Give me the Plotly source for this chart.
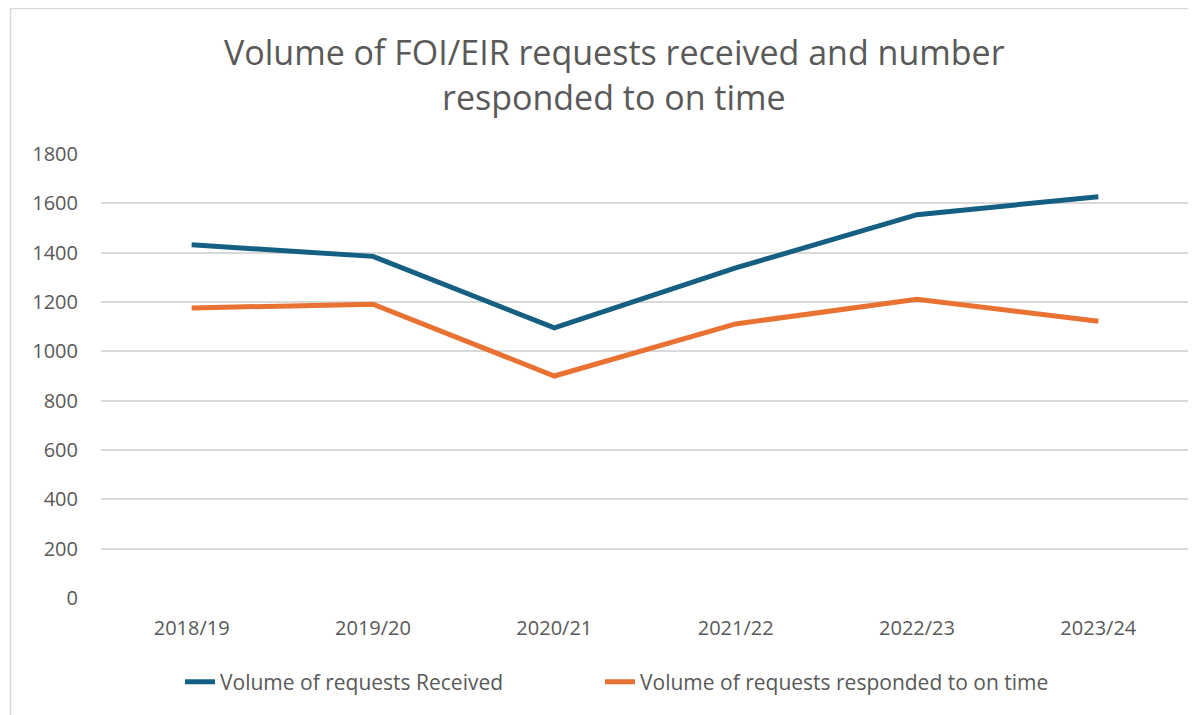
import plotly.graph_objects as go

categories = ["2018/19", "2019/20", "2020/21", "2021/22", "2022/23", "2023/24"]
received = [1432, 1385, 1095, 1338, 1554, 1627]
on_time = [1176, 1191, 900, 1111, 1211, 1122]
series_names = ["Volume of requests Received", "Volume of requests responded to on time"]
colors = ["#156082", "#E97132"]

OFF = 8  # default page body margin
W, H = 1196 - OFF, 715 - OFF
L, R, T, B = 101 - OFF, 7, 154 - OFF, 117
pw, ph = W - L - R, H - T - B

def px_to_paper_x(px):
    return (px - OFF - L) / pw

def px_to_paper_y(py):
    return (H - B - (py - OFF)) / ph

FONT = "Open Sans, Roboto, Arial, sans-serif"
TXT = "#595959"

fig = go.Figure()
for name, vals, c, lg in zip(series_names, [received, on_time], colors, ["legend", "legend2"]):
    fig.add_trace(go.Scatter(x=categories, y=vals, mode="lines", name=name,
                             line=dict(color=c, width=5), legend=lg))

legend_common = dict(orientation="h", xanchor="left", y=px_to_paper_y(682), yanchor="middle",
                     font=dict(size=21, color=TXT), bgcolor="rgba(0,0,0,0)")

fig.update_layout(
    width=W, height=H,
    margin=dict(l=L, r=R, t=T, b=B),
    paper_bgcolor="white", plot_bgcolor="white",
    font=dict(family=FONT, color=TXT, size=18),
    showlegend=True,
    legend=dict(x=px_to_paper_x(180), **legend_common),
    legend2=dict(x=px_to_paper_x(600), **legend_common),
    xaxis=dict(showgrid=False, showline=False, ticks="", tickfont=dict(size=20, color=TXT),
               range=[-0.5, 5.5], ticklabelstandoff=16),
    yaxis=dict(range=[0, 1800], dtick=200, showgrid=True, gridcolor="#D9D9D9", gridwidth=1.5,
               zeroline=False, showline=False, ticks="", tickfont=dict(size=20, color=TXT),
               ticklabelstandoff=22),
    annotations=[
        dict(text="Volume of FOI/EIR requests received and number", xref="paper", yref="paper",
             x=px_to_paper_x(614), y=px_to_paper_y(52), xanchor="center", yanchor="middle",
             showarrow=False, font=dict(size=34, color=TXT, family=FONT)),
        dict(text="responded to on time", xref="paper", yref="paper",
             x=px_to_paper_x(614), y=px_to_paper_y(97), xanchor="center", yanchor="middle",
             showarrow=False, font=dict(size=34, color=TXT, family=FONT)),
    ],
    shapes=[dict(type="rect", xref="paper", yref="paper",
                 x0=px_to_paper_x(10.5), x1=px_to_paper_x(1300),
                 y0=px_to_paper_y(800), y1=px_to_paper_y(8.5),
                 line=dict(color="#D9D9D9", width=1.5), layer="below")],
)

fig.write_html("out.html")
